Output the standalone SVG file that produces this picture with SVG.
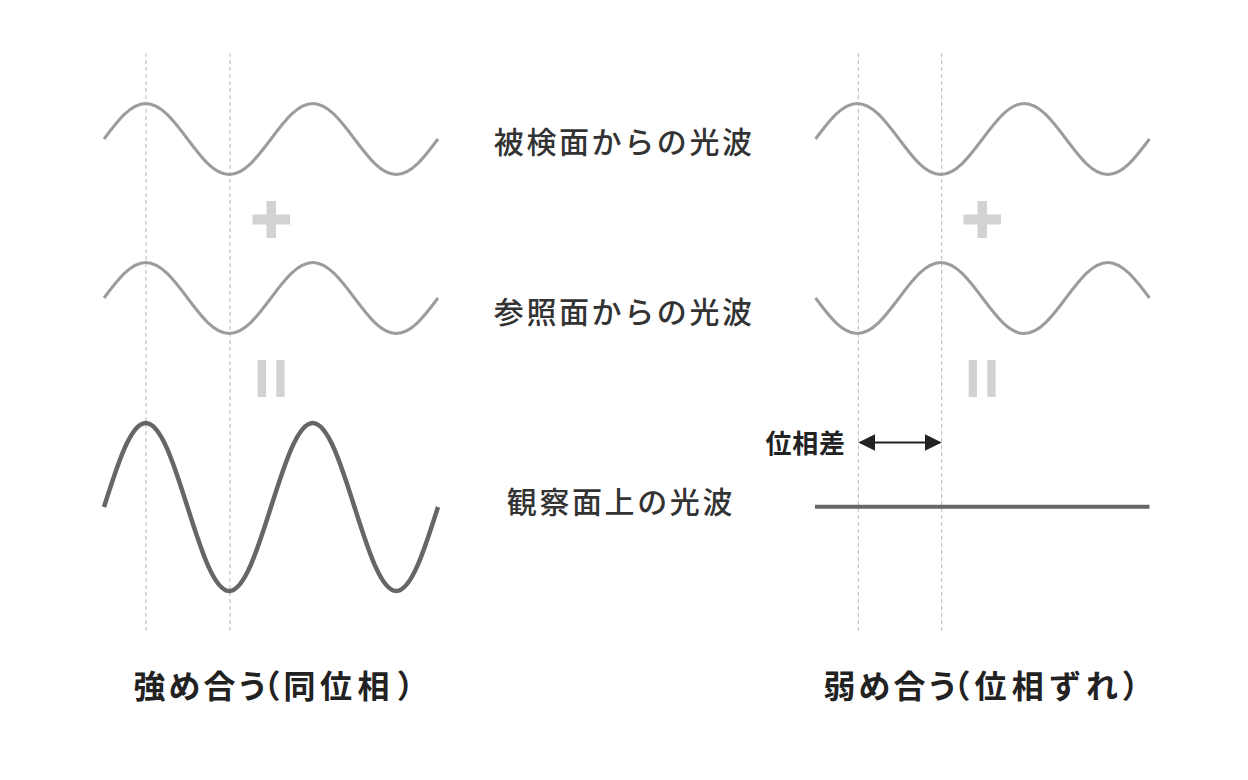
<svg xmlns="http://www.w3.org/2000/svg" xmlns:xlink="http://www.w3.org/1999/xlink" width="1248" height="780" viewBox="0 0 1248 780">
  <style>
    .guide { stroke: #b8b8b8; stroke-width: 1; stroke-dasharray: 4 3; fill: none; }
    .wave { stroke: #9c9c9c; stroke-width: 3; fill: none; stroke-linecap: butt; }
    .sum { stroke: #666666; stroke-width: 4.5; fill: none; }
    .op { fill: #d2d2d2; }
    .label { font-family: "Noto Sans CJK JP", "Noto Sans", sans-serif; font-size: 30px; font-weight: 500; fill: #333333; letter-spacing: 2.6px; }
    .title { font-family: "Noto Sans CJK JP", "Noto Sans", sans-serif; font-size: 32px; font-weight: 700; fill: #222222; }
    .note { font-family: "Noto Sans CJK JP", "Noto Sans", sans-serif; font-size: 26px; font-weight: 700; fill: #222222; letter-spacing: 0.7px; }
    .arrow { stroke: #222222; stroke-width: 2; fill: none; }
  </style>
  <defs>
    <path id="w" d="M0,0 c13.61,-18.19 26.64,-35.5 41.75,-35.5 c15.11,0 28.14,17.31 41.75,35.5 c13.61,18.19 26.64,35.5 41.75,35.5 c15.11,0 28.14,-17.31 41.75,-35.5 c13.61,-18.19 26.64,-35.5 41.75,-35.5 c15.11,0 28.14,17.31 41.75,35.5 c13.61,18.19 26.64,35.5 41.75,35.5 c15.11,0 28.14,-17.31 41.75,-35.5"/>
    <marker id="ah" viewBox="0 0 17 17" refX="15" refY="8.5" markerWidth="17" markerHeight="17" markerUnits="userSpaceOnUse" orient="auto-start-reverse">
      <path d="M0,0 L17,8.5 L0,17 Z" fill="#222222"/>
    </marker>
  </defs>
  <rect width="1248" height="780" fill="#ffffff"/>

  <g id="guides">
    <line class="guide" x1="146" y1="53" x2="146" y2="634"/>
    <line class="guide" x1="230" y1="53" x2="230" y2="634"/>
    <line class="guide" x1="858.3" y1="53" x2="858.3" y2="634"/>
    <line class="guide" x1="941.7" y1="53" x2="941.7" y2="634"/>
  </g>

  <g id="left-object-wave">
    <use xlink:href="#w" href="#w" class="wave" transform="translate(104,139)"/>
  </g>
  <g id="left-plus">
    <rect class="op" x="252.5" y="214.5" width="37.5" height="10"/>
    <rect class="op" x="266.5" y="201" width="9.5" height="37"/>
  </g>
  <g id="left-reference-wave">
    <use xlink:href="#w" href="#w" class="wave" transform="translate(104,298)"/>
  </g>
  <g id="left-equals">
    <rect class="op" x="257.7" y="360" width="8.3" height="37"/>
    <rect class="op" x="276.3" y="360" width="8.3" height="37"/>
  </g>
  <g id="left-sum-wave">
    <path class="sum" d="M104,507 c13.61,-43.03 26.64,-84 41.75,-84 c15.11,0 28.14,40.97 41.75,84 c13.61,43.03 26.64,84 41.75,84 c15.11,0 28.14,-40.97 41.75,-84 c13.61,-43.03 26.64,-84 41.75,-84 c15.11,0 28.14,40.97 41.75,84 c13.61,43.03 26.64,84 41.75,84 c15.11,0 28.14,-40.97 41.75,-84"/>
  </g>

  <g id="right-object-wave">
    <use xlink:href="#w" href="#w" class="wave" transform="translate(815.5,139)"/>
  </g>
  <g id="right-plus">
    <rect class="op" x="963.5" y="214.5" width="37.5" height="10"/>
    <rect class="op" x="977.5" y="201" width="9.5" height="37"/>
  </g>
  <g id="right-reference-wave">
    <use xlink:href="#w" href="#w" class="wave" transform="translate(815.5,298) scale(1,-1)"/>
  </g>
  <g id="right-equals">
    <rect class="op" x="968.7" y="360" width="8.3" height="37"/>
    <rect class="op" x="987.3" y="360" width="8.3" height="37"/>
  </g>
  <g id="right-sum-line">
    <line x1="815" y1="506.7" x2="1149.5" y2="506.7" stroke="#666666" stroke-width="4"/>
  </g>

  <g id="connectors">
    <line class="arrow" x1="860.3" y1="442.5" x2="939.7" y2="442.5" marker-start="url(#ah)" marker-end="url(#ah)"/>
  </g>

  <g id="phase-label">
    <text class="note" x="765.5" y="452.6">位相差</text>
  </g>

  <g id="labels">
    <text class="label" x="493.8" y="152.9">被検面からの光波</text>
    <text class="label" x="493.8" y="322.9">参照面からの光波</text>
    <text class="label" x="506.8" y="513.4">観察面上の光波</text>
  </g>

  <g id="titles">
    <text class="title" x="133.5 168.5 203.5 236.5 248.5 283.5 320 357.5 396.8" y="697.7">強め合う（同位相）</text>
    <text class="title" x="823.5 858.5 893.5 926.5 938.5 974.5 1011.8 1049 1086 1121.8" y="697.7">弱め合う（位相ずれ）</text>
  </g>
</svg>
